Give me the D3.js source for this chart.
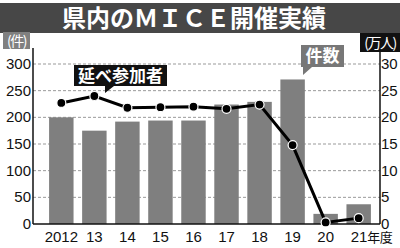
<!DOCTYPE html>
<html>
<head>
<meta charset="utf-8">
<script src="https://cdn.jsdelivr.net/npm/d3@7"></script>
<style>
  body { margin: 0; background: #fff; }
  text { font-family: "Liberation Sans", "Noto Sans CJK JP", sans-serif; }
  .jp { font-family: "Noto Sans CJK JP", sans-serif; }
</style>
</head>
<body>
<div id="chart"></div>
<script>
// data
var years = ["2012", "13", "14", "15", "16", "17", "18", "19", "20", "21"];
var events = [200, 175, 192, 194, 194, 224, 229, 271, 19, 37];       // 件
var visitors = [22.7, 24.0, 21.8, 21.9, 22.0, 21.6, 22.4, 14.8, 0.3, 1.1]; // 万人
var leftTicks = [0, 50, 100, 150, 200, 250, 300];
var rightTicks = [0, 5, 10, 15, 20, 25, 30];

var W = 400, H = 248;
var x0 = 33, x1 = 380, yTop = 64, yBot = 224;

var svg = d3.select("#chart").append("svg")
  .attr("width", W).attr("height", H);

// title bar
svg.append("rect").attr("x", 0).attr("y", 3).attr("width", W).attr("height", 30)
  .attr("fill", "#474747");
svg.append("text").attr("class", "jp")
  .attr("x", 194).attr("y", 27)
  .attr("text-anchor", "middle")
  .attr("fill", "#fff").attr("font-size", 24).attr("font-weight", "bold")
  .text("県内のＭＩＣＥ開催実績");

var xScale = d3.scaleBand().domain(years).range([40.5, 379.5]).padding(0.26);
var yLeft = d3.scaleLinear().domain([0, 300]).range([yBot, yTop]);
var yRight = d3.scaleLinear().domain([0, 30]).range([yBot, yTop]);

// grid
svg.selectAll("line.grid").data(leftTicks.slice(1)).enter().append("line")
  .attr("class", "grid")
  .attr("x1", x0).attr("x2", x1)
  .attr("y1", function(d) { return yLeft(d); })
  .attr("y2", function(d) { return yLeft(d); })
  .attr("stroke", "#999").attr("stroke-width", 1)
  .attr("stroke-dasharray", "3,2");

// bars
svg.selectAll("rect.bar").data(events).enter().append("rect")
  .attr("class", "bar")
  .attr("x", function(d, i) { return xScale(years[i]); })
  .attr("width", xScale.bandwidth())
  .attr("y", function(d) { return yLeft(d); })
  .attr("height", function(d) { return yBot - yLeft(d); })
  .attr("fill", "#7f7f7f");

// axes
var gl = svg.append("g").attr("transform", "translate(" + x0 + ",0)")
  .call(d3.axisLeft(yLeft).tickValues(leftTicks).tickSize(0).tickPadding(2));
var gr = svg.append("g").attr("transform", "translate(" + x1 + ",0)")
  .call(d3.axisRight(yRight).tickValues(rightTicks).tickSize(0).tickPadding(1));
var gb = svg.append("g").attr("transform", "translate(0," + yBot + ")")
  .call(d3.axisBottom(xScale).tickSize(0).tickPadding(6));

[gl, gr, gb].forEach(function(g) {
  g.select(".domain").remove();
  g.selectAll("text").attr("font-size", 15).attr("fill", "#111")
    .attr("font-family", "Liberation Sans Narrow, Liberation Sans, sans-serif")
    .attr("letter-spacing", 0);
});
gl.selectAll("text").attr("dy", "0.3em");
gr.selectAll("text").attr("dy", "0.3em");
gb.selectAll("text").attr("dy", "0.8em");
// last label: "21年度"
var last = gb.selectAll(".tick text").filter(function(d) { return d === "21"; });
last.attr("text-anchor", "start").attr("x", -8);
last.append("tspan").attr("class", "jp").attr("font-family", "Noto Sans CJK JP")
  .attr("font-size", 13).attr("letter-spacing", -0.5).text("年度");

svg.append("line").attr("x1", x0).attr("x2", x0).attr("y1", 48).attr("y2", yBot)
  .attr("stroke", "#111").attr("stroke-width", 1.5);
svg.append("line").attr("x1", x1).attr("x2", x1).attr("y1", 52).attr("y2", yBot)
  .attr("stroke", "#111").attr("stroke-width", 1.5);
svg.append("line").attr("x1", x0).attr("x2", x1).attr("y1", yBot).attr("y2", yBot)
  .attr("stroke", "#111").attr("stroke-width", 1.5);

// unit labels
svg.append("rect").attr("x", 3).attr("y", 32).attr("width", 27).attr("height", 17).attr("fill", "#808080");
svg.append("text").attr("class", "jp").attr("x", 16.5).attr("y", 46).attr("text-anchor", "middle")
  .attr("fill", "#fff").attr("font-size", 14).attr("letter-spacing", -1.5).text("(件)");
svg.append("rect").attr("x", 360).attr("y", 33).attr("width", 40).attr("height", 19).attr("fill", "#111");
svg.append("text").attr("class", "jp").attr("x", 380).attr("y", 48).attr("text-anchor", "middle")
  .attr("fill", "#fff").attr("font-size", 14).attr("letter-spacing", -1.5).text("(万人)");

// line
var line = d3.line()
  .x(function(d, i) { return xScale(years[i]) + xScale.bandwidth() / 2; })
  .y(function(d) { return yRight(d); });
svg.append("path").datum(visitors)
  .attr("d", line).attr("fill", "none")
  .attr("stroke", "#000").attr("stroke-width", 3);
svg.selectAll("circle.pt").data(visitors).enter().append("circle")
  .attr("class", "pt")
  .attr("cx", function(d, i) { return xScale(years[i]) + xScale.bandwidth() / 2; })
  .attr("cy", function(d) { return yRight(d); })
  .attr("r", 4.5)
  .attr("fill", "#000").attr("stroke", "#fff").attr("stroke-width", 1.2);

// callouts
function callout(bx, by, bw, bh, tx, tipY, fill, label) {
  var p = "M" + bx + "," + by + "h" + bw + "v" + bh + "H" + (tx + 9) +
          "L" + tx + "," + tipY + "V" + (by + bh) + "H" + bx + "Z";
  svg.append("path").attr("d", p).attr("fill", fill);
  svg.append("text").attr("class", "jp")
    .attr("x", bx + bw / 2).attr("y", by + bh / 2 + 6)
    .attr("text-anchor", "middle").attr("fill", "#fff")
    .attr("font-size", 17).attr("font-weight", "bold")
    .text(label);
}
callout(74, 65, 93, 21, 105, 93, "#111", "延べ参加者");
callout(301, 45, 43, 22, 303, 75, "#777", "件数");
</script>
</body>
</html>
